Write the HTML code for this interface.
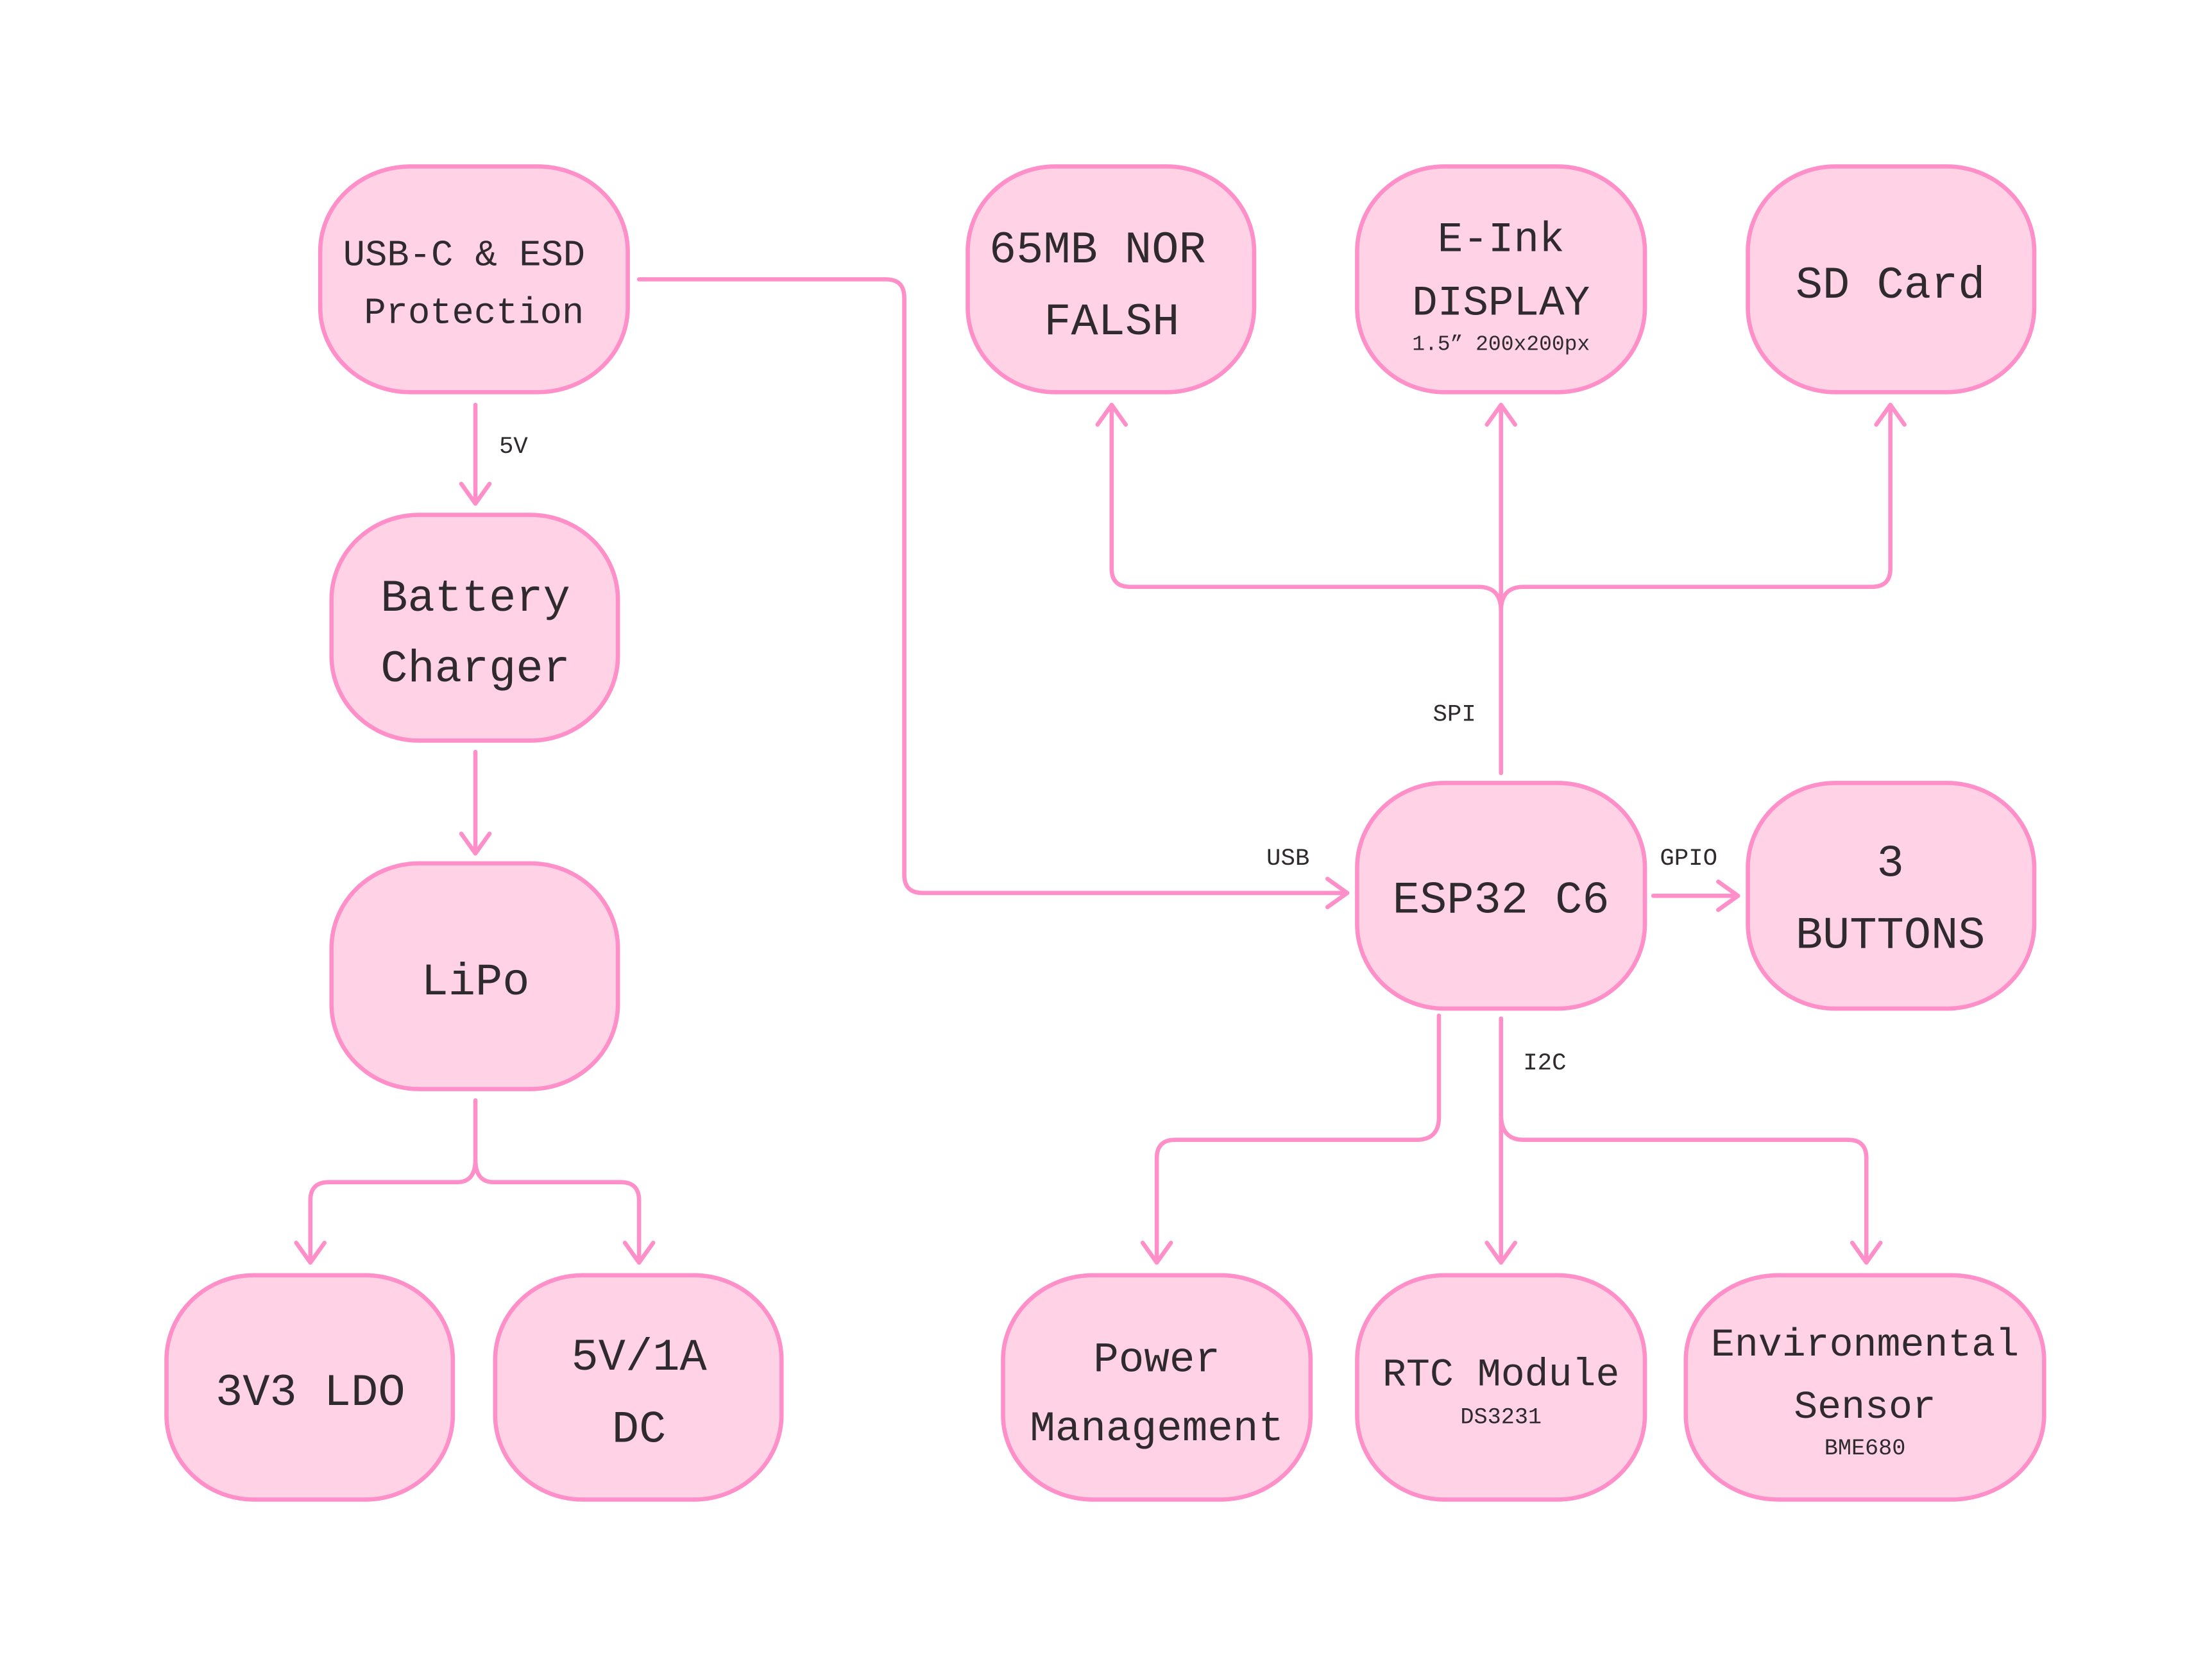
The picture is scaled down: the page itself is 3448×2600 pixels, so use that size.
<!DOCTYPE html>
<html><head><meta charset="utf-8"><style>
html,body{margin:0;padding:0;background:#fff;width:3448px;height:2600px;overflow:hidden}
svg{display:block}
text{font-family:"Liberation Mono","DejaVu Sans Mono",monospace;fill:#2f2a2e;text-anchor:middle}
</style></head><body>
<svg width="3448" height="2600" viewBox="0 0 1568 1182.4" preserveAspectRatio="none">
<g fill="#ffd3e5" stroke="#ff8fc8" stroke-width="3">
<rect x="227" y="118" width="218" height="160" rx="64" ry="60"/>
<rect x="686" y="118" width="203" height="160" rx="62" ry="60"/>
<rect x="962" y="118" width="204" height="160" rx="62" ry="60"/>
<rect x="1239" y="118" width="203" height="160" rx="62" ry="60"/>
<rect x="235" y="365" width="203" height="160" rx="62" ry="60"/>
<rect x="235" y="612" width="203" height="160" rx="62" ry="60"/>
<rect x="118" y="904" width="203" height="159" rx="62" ry="60"/>
<rect x="351" y="904" width="203" height="159" rx="62" ry="60"/>
<rect x="962" y="555" width="204" height="160" rx="62" ry="60"/>
<rect x="1239" y="555" width="203" height="160" rx="62" ry="60"/>
<rect x="711" y="904" width="218" height="159" rx="64" ry="60"/>
<rect x="962" y="904" width="204" height="159" rx="62" ry="60"/>
<rect x="1195" y="904" width="254" height="159" rx="66" ry="60"/>
</g>
<g fill="none" stroke="#ff8fc8" stroke-width="3" stroke-linecap="round" stroke-linejoin="round">
<path d="M453 198 H628 Q641 198 641 211 V620 Q641 633 654 633 H955"/>
<path d="M941 623 L955 633 L941 643"/>
<path d="M337 287 V357 M327 343 L337 357 L347 343"/>
<path d="M337 533 V605 M327 591 L337 605 L347 591"/>
<path d="M337 780 V822 Q337 838 350 838 H440 Q453 838 453 851 V895 M443 881 L453 895 L463 881"/>
<path d="M337 822 Q337 838 324 838 H233 Q220 838 220 851 V895 M210 881 L220 895 L230 881"/>
<path d="M1064 548 V287 M1054 301 L1064 287 L1074 301"/>
<path d="M1064 433 Q1064 416 1048 416 H801 Q788 416 788 403 V287 M778 301 L788 287 L798 301"/>
<path d="M1064 433 Q1064 416 1080 416 H1327 Q1340 416 1340 403 V287 M1330 301 L1340 287 L1350 301"/>
<path d="M1172 635 H1232 M1218 625 L1232 635 L1218 645"/>
<path d="M1064 722 V895 M1054 881 L1064 895 L1074 881"/>
<path d="M1064 790 Q1064 808 1080 808 H1310 Q1323 808 1323 821 V895 M1313 881 L1323 895 L1333 881"/>
<path d="M1020 720 V792 Q1020 808 1004 808 H833 Q820 808 820 821 V895 M810 881 L820 895 L830 881"/>
</g>
<g font-size="26">
<text x="329" y="188">USB-C &amp; ESD</text>
<text x="336" y="229">Protection</text>
</g>
<g font-size="32">
<text x="778" y="186">65MB NOR</text>
<text x="788" y="237">FALSH</text>
<text x="1064" y="178" font-size="30">E-Ink</text>
<text x="1064" y="223" font-size="30">DISPLAY</text>
<text x="1340" y="211">SD Card</text>
<text x="337" y="433">Battery</text>
<text x="337" y="483">Charger</text>
<text x="337" y="705">LiPo</text>
<text x="220" y="996">3V3 LDO</text>
<text x="453" y="971">5V/1A</text>
<text x="453" y="1022">DC</text>
<text x="1064" y="647">ESP32 C6</text>
<text x="1340" y="621">3</text>
<text x="1340" y="672">BUTTONS</text>
<text x="820" y="972" font-size="30">Power</text>
<text x="820" y="1021" font-size="30">Management</text>
<text x="1064" y="982" font-size="28">RTC Module</text>
<text x="1322" y="961" font-size="28">Environmental</text>
<text x="1322" y="1005" font-size="28">Sensor</text>
</g>
<g font-size="15">
<text x="1064" y="248">1.5” 200x200px</text>
<text x="1064" y="1009" font-size="16">DS3231</text>
<text x="1322" y="1031" font-size="16">BME680</text>
</g>
<g font-size="17">
<text x="364" y="321">5V</text>
<text x="913" y="613">USB</text>
<text x="1031" y="511">SPI</text>
<text x="1197" y="613">GPIO</text>
<text x="1095" y="758">I2C</text>
</g>
</svg>
</body></html>
